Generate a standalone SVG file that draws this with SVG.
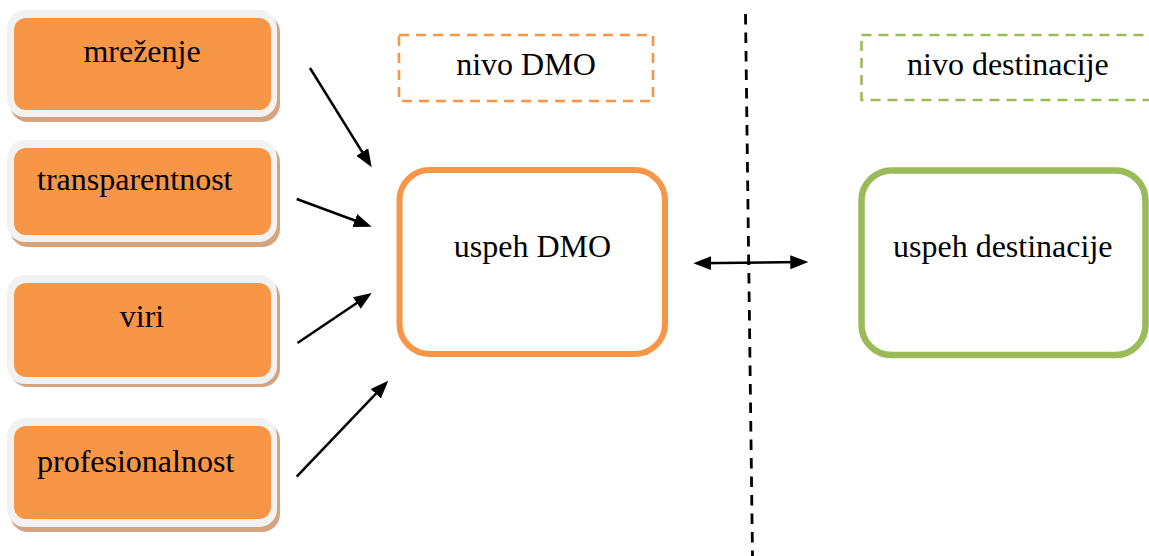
<svg xmlns="http://www.w3.org/2000/svg" width="1149" height="556" viewBox="0 0 1149 556">
  <style>
    text { font-family: "Liberation Serif", "Times New Roman", serif; font-size: 32px; fill: #000; }
    .shadow { fill: #d5a47f; }
    .ring { fill: #f2f2f2; }
    .factor { fill: #f79646; }
    .conn { stroke: #000; stroke-width: 2.5; fill: none; }
    .lvl-dmo { fill: none; stroke: #f79646; stroke-width: 2.6; stroke-dasharray: 10 7; }
    .lvl-dest { fill: none; stroke: #9bbb59; stroke-width: 2.6; stroke-dasharray: 10 7; }
  </style>
  <defs>
    <marker id="ah" markerUnits="userSpaceOnUse" markerWidth="19" markerHeight="16" refX="13" refY="8" orient="auto-start-reverse" viewBox="0 0 19 16">
      <path d="M0,1 L18,8 L0,15 z" fill="#000"/>
    </marker>
  </defs>
  <rect width="1149" height="556" fill="#fff"/>

  <g id="node-mrezenje">
    <rect class="shadow" x="10" y="14" width="270" height="108" rx="18"/>
    <rect class="ring" x="7" y="10" width="270" height="107" rx="18"/>
    <rect class="factor" x="14" y="18" width="257" height="92" rx="12"/>
    <text x="142" y="62" text-anchor="middle">mreženje</text>
  </g>
  <g id="node-transparentnost">
    <rect class="shadow" x="10" y="144" width="270" height="103" rx="18"/>
    <rect class="ring" x="7" y="140" width="270" height="102" rx="18"/>
    <rect class="factor" x="14" y="148" width="257" height="87" rx="12"/>
    <text x="37" y="190">transparentnost</text>
  </g>
  <g id="node-viri">
    <rect class="shadow" x="10" y="279" width="270" height="108" rx="18"/>
    <rect class="ring" x="7" y="275" width="270" height="109" rx="18"/>
    <rect class="factor" x="14" y="283" width="257" height="94" rx="12"/>
    <text x="142" y="327" text-anchor="middle">viri</text>
  </g>
  <g id="node-profesionalnost">
    <rect class="shadow" x="10" y="422" width="270" height="110" rx="18"/>
    <rect class="ring" x="7" y="418" width="270" height="109" rx="18"/>
    <rect class="factor" x="14" y="426" width="257" height="93" rx="12"/>
    <text x="37" y="472">profesionalnost</text>
  </g>

  <g id="node-nivo-dmo">
    <rect class="lvl-dmo" x="399" y="35" width="254" height="66"/>
    <text x="526" y="75" text-anchor="middle">nivo DMO</text>
  </g>
  <g id="node-nivo-destinacije">
    <rect class="lvl-dest" x="861.5" y="35" width="300" height="65"/>
    <text x="907" y="74.5">nivo destinacije</text>
  </g>

  <g id="node-uspeh-dmo">
    <rect x="399.5" y="170" width="265.5" height="184" rx="30" fill="#fff" stroke="#f79646" stroke-width="6"/>
    <text x="532.5" y="257" text-anchor="middle">uspeh DMO</text>
  </g>
  <g id="node-uspeh-destinacije">
    <rect x="861.5" y="170.5" width="284" height="184.5" rx="30" fill="#fff" stroke="#9bbb59" stroke-width="6.5"/>
    <text x="893" y="257">uspeh destinacije</text>
  </g>

  <g id="connectors">
    <line x1="745.5" y1="14" x2="752.5" y2="556" stroke="#000" stroke-width="2.8" stroke-dasharray="10.5 8"/>
    <line class="conn" x1="310" y1="68" x2="369.1" y2="163.1" marker-end="url(#ah)"/>
    <line class="conn" x1="296.7" y1="199" x2="367" y2="225" marker-end="url(#ah)"/>
    <line class="conn" x1="297.5" y1="343" x2="367.6" y2="295.8" marker-end="url(#ah)"/>
    <line class="conn" x1="296.7" y1="476.7" x2="384.8" y2="384.3" marker-end="url(#ah)"/>
    <line class="conn" x1="698.3" y1="263.24" x2="803.3" y2="262.06" stroke-width="2.8" marker-start="url(#ah)" marker-end="url(#ah)"/>
  </g>
</svg>
